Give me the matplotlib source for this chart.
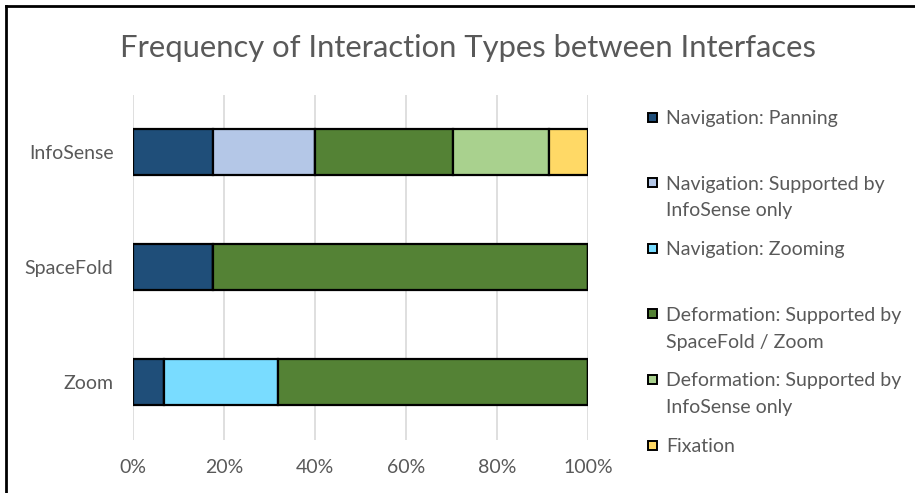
import matplotlib
matplotlib.use("Agg")
import matplotlib.pyplot as plt
from matplotlib.patches import Rectangle
from matplotlib.lines import Line2D

plt.rcParams["font.family"] = ["Lato", "DejaVu Sans"]

interfaces = ["InfoSense", "SpaceFold", "Zoom"]
series_names = [
    "Navigation: Panning",
    "Navigation: Supported by\nInfoSense only",
    "Navigation: Zooming",
    "Deformation: Supported by\nSpaceFold / Zoom",
    "Deformation: Supported by\nInfoSense only",
    "Fixation",
]
# share (%) per interface, one list per series
panning = [17.6, 17.5, 6.8]
nav_infosense = [22.3, 0.0, 0.0]
zooming = [0.0, 0.0, 25.1]
deform_sf_zoom = [30.4, 82.5, 68.1]
deform_infosense = [21.1, 0.0, 0.0]
fixation = [8.6, 0.0, 0.0]
series_values = [panning, nav_infosense, zooming, deform_sf_zoom, deform_infosense, fixation]
colors = ["#1F4E79", "#B4C7E7", "#79DCFF", "#548235", "#A9D18E", "#FFD966"]
x_ticks = [0, 20, 40, 60, 80, 100]
x_tick_labels = ["0%", "20%", "40%", "60%", "80%", "100%"]

W, H = 915, 493
fig = plt.figure(figsize=(W / 100, H / 100), dpi=100)
ax = fig.add_axes([133 / W, 1 - 439.5 / H, (588 - 133) / W, (439.5 - 94.5) / H])

text_gray = "#595959"
left = [0.0] * len(interfaces)
for vals, col in zip(series_values, colors):
    ax.barh(range(len(interfaces)), vals, left=left, height=0.4, color=col,
            edgecolor="black", linewidth=1.6, zorder=3)
    left = [l + v for l, v in zip(left, vals)]

ax.set_xlim(0, 100)
ax.set_ylim(2.5, -0.5)
ax.set_xticks(x_ticks)
ax.set_xticklabels(x_tick_labels)
ax.set_yticks(range(len(interfaces)))
ax.set_yticklabels(interfaces)
ax.tick_params(length=0, labelsize=14, colors=text_gray)
ax.tick_params(axis="y", pad=14)
ax.tick_params(axis="x", pad=14)
ax.xaxis.grid(True, color="#D9D9D9", linewidth=1.2, zorder=0)
for s in ax.spines.values():
    s.set_visible(False)

fig.text(468 / W, 1 - 48 / H, "Frequency of Interaction Types between Interfaces",
         ha="center", va="center", fontsize=22.3, color=text_gray)

# legend, drawn in figure pixel coordinates
for i, (name, col) in enumerate(zip(series_names, colors)):
    py = 117 + i * 65.6
    fig.add_artist(Rectangle((648 / W, 1 - (py + 4.5) / H), 9 / W, 9 / H,
                             transform=fig.transFigure, facecolor=col,
                             edgecolor="black", linewidth=1.4))
    fig.text(666 / W, 1 - (py - 7) / H, name, ha="left", va="top",
             fontsize=14, color=text_gray, linespacing=1.7)

# outer frame edges
fig.add_artist(Line2D([6 / W, 1], [1 - 6 / H, 1 - 6 / H], transform=fig.transFigure,
                      color="black", linewidth=2))
fig.add_artist(Line2D([6 / W, 6 / W], [0, 1 - 6 / H], transform=fig.transFigure,
                      color="black", linewidth=2))

fig.savefig("out.png", dpi=100, facecolor="white")
